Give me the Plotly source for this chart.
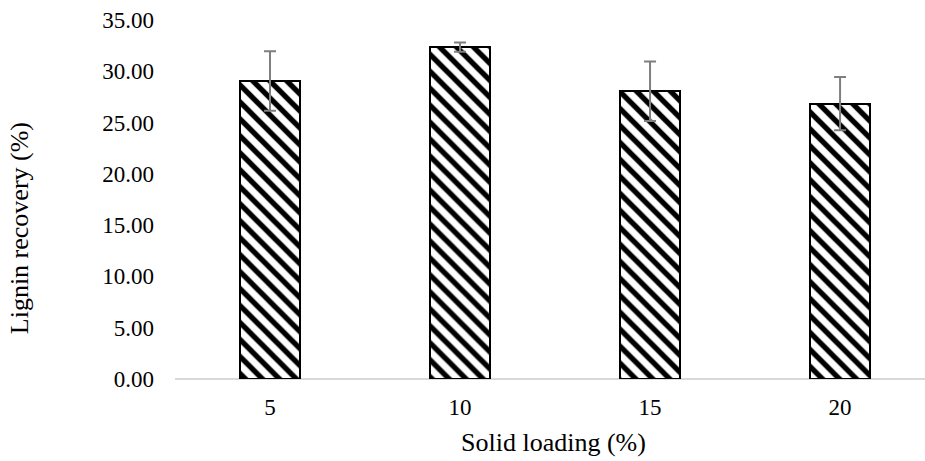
import plotly.graph_objects as go

categories = ["5", "10", "15", "20"]
recovery = [29.05, 32.35, 28.05, 26.85]
errors = [2.9, 0.45, 2.9, 2.6]
y_ticks = [0, 5, 10, 15, 20, 25, 30, 35]
y_tick_labels = [f"{v:.2f}" for v in y_ticks]

FONT = "Liberation Serif, Times New Roman, serif"

fig = go.Figure()
fig.add_trace(go.Bar(
    x=categories,
    y=recovery,
    width=0.316,
    marker=dict(
        color="white",
        line=dict(color="black", width=2),
        pattern=dict(shape="\\", fgcolor="black", bgcolor="white", fgopacity=1,
                     size=12, solidity=0.45),
    ),
    error_y=dict(type="data", array=errors, visible=True, color="#7f7f7f", thickness=2, width=6),
))

fig.update_layout(
    width=925, height=461,
    margin=dict(l=175, r=0, t=20, b=82),
    plot_bgcolor="white", paper_bgcolor="white",
    font=dict(family=FONT, size=23, color="black"),
    showlegend=False,
    bargap=0,
    xaxis=dict(
        type="category",
        range=[-0.5, 3.447],
        showgrid=False,
        showline=False,
        ticks="",
        ticklabelstandoff=12,
        tickfont=dict(size=23),
        zeroline=False,
    ),
    yaxis=dict(
        range=[0, 35],
        tickvals=y_ticks,
        ticktext=y_tick_labels,
        showgrid=False,
        showline=False,
        zeroline=True,
        zerolinecolor="#d9d9d9",
        zerolinewidth=1.5,
        ticks="",
        ticklabelstandoff=20,
        tickfont=dict(size=23),
    ),
    annotations=[
        dict(
            text="Lignin recovery (%)", textangle=-90,
            xref="paper", yref="paper", x=-0.208, y=0.42,
            xanchor="center", yanchor="middle", showarrow=False,
            font=dict(size=26, family=FONT),
        ),
        dict(
            text="Solid loading (%)",
            xref="paper", yref="paper", x=0.504, y=-0.178,
            xanchor="center", yanchor="middle", showarrow=False,
            font=dict(size=26, family=FONT),
        ),
    ],
)

fig.write_html("out.html")
